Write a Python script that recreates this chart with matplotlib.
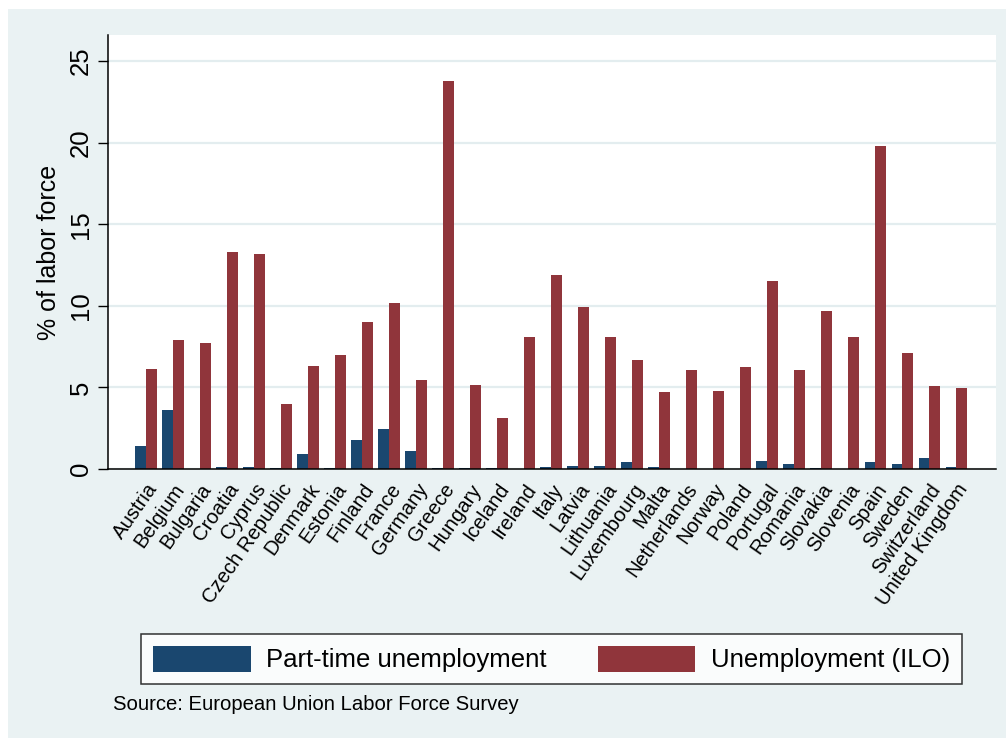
#!/usr/bin/env python3
"""Part-time vs ILO unemployment by European country (Stata s2color look)."""

import matplotlib
matplotlib.use("Agg")
import matplotlib.pyplot as plt
import numpy as np
from matplotlib.patches import Rectangle

plt.rcParams["font.family"] = ["Liberation Sans", "DejaVu Sans"]

countries = [
    "Austria", "Belgium", "Bulgaria", "Croatia", "Cyprus", "Czech Republic",
    "Denmark", "Estonia", "Finland", "France", "Germany", "Greece", "Hungary",
    "Iceland", "Ireland", "Italy", "Latvia", "Lithuania", "Luxembourg", "Malta",
    "Netherlands", "Norway", "Poland", "Portugal", "Romania", "Slovakia",
    "Slovenia", "Spain", "Sweden", "Switzerland", "United Kingdom",
]
part_time = [
    1.39, 3.6, 0.0, 0.12, 0.12, 0.05, 0.9, 0.05, 1.8, 2.47, 1.1, 0.06, 0.05,
    0.07, 0.0, 0.12, 0.18, 0.2, 0.45, 0.12, 0.0, 0.0, 0.03, 0.5, 0.3, 0.05,
    0.0, 0.45, 0.33, 0.68, 0.12,
]
unemployment = [
    6.1, 7.9, 7.7, 13.3, 13.2, 4.0, 6.34, 7.0, 9.0, 10.2, 5.44, 23.8, 5.14,
    3.12, 8.1, 11.9, 9.9, 8.1, 6.7, 4.75, 6.05, 4.79, 6.24, 11.5, 6.07, 9.7,
    8.1, 19.8, 7.1, 5.08, 4.97,
]
yticks = [0, 5, 10, 15, 20, 25]

NAVY = "#1a476f"
MAROON = "#90353b"
BG = "#eaf2f3"

W, H = 1006, 739
fig = plt.figure(figsize=(W / 100, H / 100), dpi=100, facecolor="white")
fig.patches.append(Rectangle((8 / W, 1 / H), 1 - 8 / W, 1 - 10 / H,
                             transform=fig.transFigure, facecolor=BG,
                             edgecolor="none", zorder=-10))

ax = fig.add_axes([108 / W, 1 - 469 / H, (996 - 108) / W, (469 - 35) / H])
ax.set_facecolor("white")

x = np.arange(len(countries))
bw = 0.39
ax.bar(x - bw / 2, part_time, width=bw, color=NAVY, label="Part-time unemployment",
       zorder=3)
ax.bar(x + bw / 2, unemployment, width=bw, color=MAROON, label="Unemployment (ILO)",
       zorder=3)

ax.set_xlim(-1.407, 31.48)
ax.set_ylim(0, 26.6)

ax.set_yticks(yticks)
ax.set_yticklabels([str(t) for t in yticks], rotation=90, va="center",
                   fontsize=18.5)
ax.tick_params(axis="y", length=7, width=1, pad=4)
ax.yaxis.grid(True, color="#e3edef", linewidth=1.6, zorder=0)

ax.set_xticks(x)
ax.set_xticklabels(countries, rotation=55, ha="right", rotation_mode="anchor",
                   fontsize=14.6)
ax.tick_params(axis="x", length=0, pad=8)

for side in ("top", "right"):
    ax.spines[side].set_visible(False)
for side in ("left", "bottom"):
    ax.spines[side].set_linewidth(1.1)
    ax.spines[side].set_zorder(5)

ax.set_ylabel("% of labor force", fontsize=18)
ax.yaxis.set_label_coords((61 - 108) / (996 - 108), (469 - 252) / (469 - 35))

leg = fig.legend(loc="center", bbox_to_anchor=(551.5 / W, 1 - 659 / H),
                 ncol=2, fontsize=18.5, frameon=True, fancybox=False,
                 edgecolor="black", handlelength=3.8, handleheight=1.2,
                 columnspacing=2.0, handletextpad=0.6, borderpad=0.45,
                 borderaxespad=0)
leg.get_frame().set_linewidth(1.1)

fig.text(113 / W, 1 - 704 / H, "Source: European Union Labor Force Survey",
         fontsize=14.6, va="center", ha="left")

fig.savefig("out.png", dpi=100, facecolor=fig.get_facecolor())
